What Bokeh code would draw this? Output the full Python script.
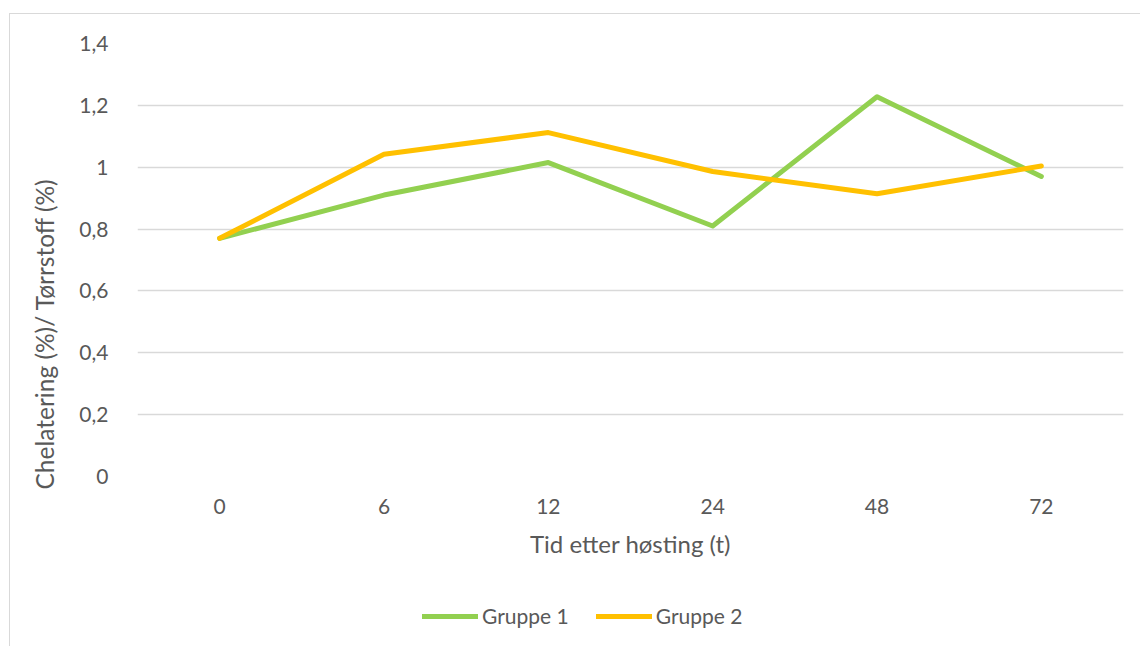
from bokeh.embed import file_html
from bokeh.layouts import column
from bokeh.models import (CustomJSTickFormatter, FactorRange, FixedTicker,
                          InlineStyleSheet, Legend, LegendItem, Range1d, Title)
from bokeh.plotting import figure
from bokeh.resources import INLINE

# Hours after harvest (categorical x axis)
hours = ["0", "6", "12", "24", "48", "72"]
# Chelation (%) relative to dry matter (%)
gruppe_1 = [0.77, 0.91, 1.015, 0.81, 1.228, 0.97]
gruppe_2 = [0.77, 1.042, 1.112, 0.986, 0.914, 1.004]
y_ticks = [0, 0.2, 0.4, 0.6, 0.8, 1.0, 1.2, 1.4]
series_names = ["Gruppe 1", "Gruppe 2"]
series_colors = ["#92D050", "#FFC000"]

FONT = "Lato"
TEXT = "#595959"
GRID = "#d9d9d9"
LINE = dict(line_width=5, line_cap="round", line_join="round")

p = figure(
    x_range=FactorRange(*hours),
    y_range=Range1d(0, 1.4),
    frame_width=986,
    frame_height=433,
    min_border_left=127,
    min_border_right=18,
    min_border_top=29,
    min_border_bottom=100,
    output_backend="svg",
    toolbar_location=None,
    tools="",
)
p.outline_line_color = None
p.background_fill_color = "white"
p.border_fill_color = "white"

# grid
p.xgrid.visible = False
p.ygrid.grid_line_color = GRID
p.ygrid.grid_line_width = 1.5

# y axis
p.yaxis.ticker = FixedTicker(ticks=y_ticks)
p.yaxis.formatter = CustomJSTickFormatter(
    code="return (Math.round(tick * 10) / 10).toString().replace('.', ',');"
)
p.yaxis.axis_line_color = None
p.yaxis.major_tick_line_color = None
p.yaxis.minor_tick_line_color = None
p.yaxis.major_label_standoff = 23
p.yaxis.major_label_text_font = FONT
p.yaxis.major_label_text_font_size = "21px"
p.yaxis.major_label_text_color = TEXT

# x axis
p.xaxis.axis_line_color = None
p.xaxis.major_tick_line_color = None
p.xaxis.minor_tick_line_color = None
p.xaxis.major_label_standoff = 16
p.xaxis.major_label_text_font = FONT
p.xaxis.major_label_text_font_size = "21px"
p.xaxis.major_label_text_color = TEXT
p.xaxis.axis_label = "Tid etter høsting (t)"
p.xaxis.axis_label_standoff = 12
p.xaxis.axis_label_text_font = FONT
p.xaxis.axis_label_text_font_size = "24px"
p.xaxis.axis_label_text_font_style = "normal"
p.xaxis.axis_label_text_color = TEXT

# series
for vals, color in zip([gruppe_1, gruppe_2], series_colors):
    p.line(hours, vals, line_color=color, **LINE)

# y axis title, placed in the left panel
p.add_layout(Title(
    text="Chelatering (%)/ Tørrstoff (%)", align="left", offset=-13,
    standoff=35, text_font=FONT, text_font_size="24.5px",
    text_font_style="normal", text_color=TEXT,
), "left")

# legend strip under the chart: same series, drawn outside its visible range
leg = figure(
    x_range=FactorRange(*hours),
    y_range=Range1d(10, 11),
    width=1131,
    height=71,
    min_border=0,
    x_axis_type=None,
    y_axis_type=None,
    output_backend="svg",
    toolbar_location=None,
    tools="",
)
leg.outline_line_color = None
leg.xgrid.visible = False
leg.ygrid.visible = False
items = []
for name, vals, color in zip(series_names, [gruppe_1, gruppe_2], series_colors):
    r = leg.line(hours, vals, line_color=color, **LINE)
    items.append(LegendItem(label=name, renderers=[r]))

legend = Legend(
    items=items,
    orientation="horizontal",
    location=(285, 19),
    glyph_width=56,
    glyph_height=20,
    label_standoff=4,
    spacing=27,
    padding=0,
    margin=0,
    border_line_color=None,
    background_fill_alpha=0,
    label_text_font=FONT,
    label_text_font_size="21px",
    label_text_color=TEXT,
)
leg.add_layout(legend, "center")

chart = column(p, leg, spacing=0)
chart.margin = (13, 0, 0, 9)
chart.stylesheets = [InlineStyleSheet(
    css=f":host {{ border-top: 1px solid {GRID}; border-left: 1px solid {GRID}; }}"
)]

open("out.html", "w").write(file_html(chart, INLINE))
